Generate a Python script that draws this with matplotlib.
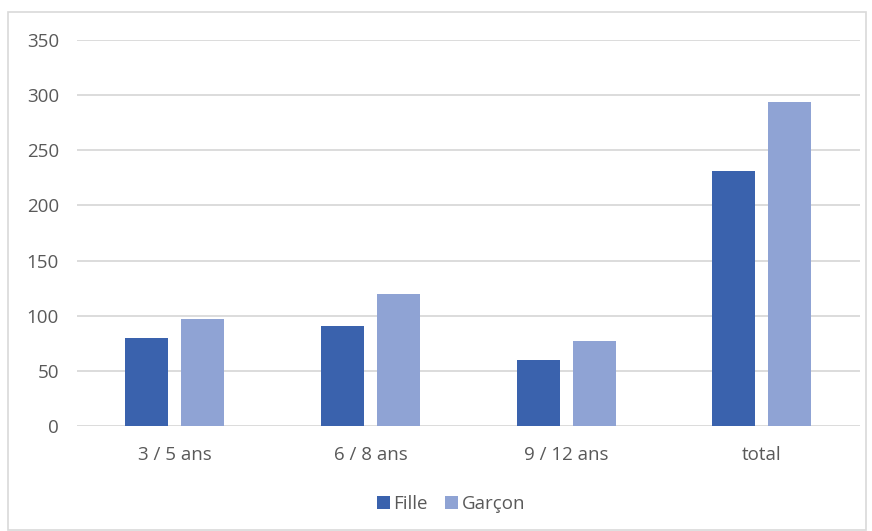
import numpy as np
import matplotlib.pyplot as plt
from matplotlib.patches import Rectangle

# Data
categories = ['3 / 5 ans', '6 / 8 ans', '9 / 12 ans', 'total']
fille = [80, 91, 60, 231]
garcon = [97, 120, 77, 294]
series_names = ['Fille', 'Garçon']

plt.rcParams['font.family'] = ['Open Sans', 'DejaVu Sans']
text_color = '#595959'

fig = plt.figure(figsize=(8.72, 5.31), dpi=100)
ax = fig.add_axes([0.0883, 0.1977, 0.8977, 0.727])

x = np.arange(len(categories))
width = 0.22
offset = 0.143
ax.bar(x - offset, fille, width, color='#3A62AD', label=series_names[0], zorder=3)
ax.bar(x + offset, garcon, width, color='#8FA3D4', label=series_names[1], zorder=3)

ax.set_xlim(-0.5, len(categories) - 0.5)
ax.set_ylim(0, 350)
ax.set_yticks(np.arange(0, 351, 50))
ax.set_xticks(x)
ax.set_xticklabels(categories)
ax.grid(axis='y', color='#D9D9D9', linewidth=1.3, zorder=0)
for s in ax.spines.values():
    s.set_visible(False)
ax.tick_params(axis='both', length=0, labelsize=13.5, colors=text_color)
ax.tick_params(axis='x', pad=14.5)
ax.tick_params(axis='y', pad=13)

fig.legend(loc='center', bbox_to_anchor=(0.517, 0.05), ncol=2, frameon=False,
           fontsize=13.5, labelcolor=text_color, handlelength=0.7, handleheight=0.7,
           handletextpad=0.2, columnspacing=0.9)

# outer chart border
fig.patches.append(Rectangle((8 / 872, 0.002), 858 / 872, 0.975,
                             transform=fig.transFigure, fill=False,
                             edgecolor='#D9D9D9', linewidth=1.2))

fig.savefig('out.png', dpi=100)
